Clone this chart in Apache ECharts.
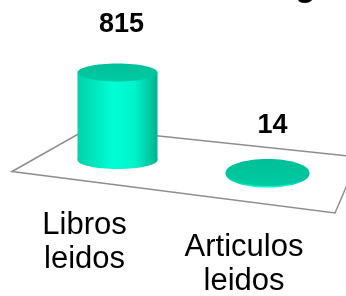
<!DOCTYPE html>
<html>
<head>
<meta charset="utf-8">
<script src="https://cdn.jsdelivr.net/npm/echarts@6/dist/echarts.min.js"></script>
<style>
  html, body { margin: 0; padding: 0; background: #fff; }
  #chart { width: 346px; height: 296px; }
</style>
</head>
<body>
<div id="chart"></div>
<script>
// datos del grafico
var categories = ['Libros\nleidos', 'Articulos\nleidos']
var values = [815, 14]
var valueMax = 1000

var FONT = '"Liberation Sans", Arial, sans-serif'

// cada cilindro va en su propia rejilla (perspectiva del piso)
var layout = [
  { left: 77.5, width: 80, base: 160, ry: 9, labelMargin: 48, labelShift: 66, valueGap: 25, valueDx: 4 },
  { left: 225.7, width: 83.6, base: 174, ry: 13.5, labelMargin: 56, labelShift: 47, valueGap: 20, valueDx: 5 }
]
var plotHeight = 107.4

var bodyColor = {
  type: 'linear', x: 0, y: 0, x2: 1, y2: 0,
  colorStops: [
    { offset: 0, color: '#00D2AC' },
    { offset: 0.45, color: '#00FFD6' },
    { offset: 0.72, color: '#00F2CA' },
    { offset: 1, color: '#00B48F' }
  ]
}
var topColor = {
  type: 'linear', x: 0, y: 0, x2: 0, y2: 1,
  colorStops: [
    { offset: 0, color: '#00BF98' },
    { offset: 1, color: '#00CBA2' }
  ]
}

function cylinder(ry, gap, dx) {
  return function (params, api) {
    var top = api.coord([api.value(0), api.value(1)])
    var base = api.coord([api.value(0), 0])
    var rx = api.size([1, 0])[0] / 2
    var cx = top[0]
    return {
      type: 'group',
      children: [
        { type: 'ellipse', shape: { cx: cx, cy: base[1], rx: rx, ry: ry }, style: { fill: bodyColor } },
        { type: 'rect', shape: { x: cx - rx, y: top[1], width: rx * 2, height: base[1] - top[1] }, style: { fill: bodyColor } },
        { type: 'ellipse', shape: { cx: cx, cy: top[1], rx: rx, ry: ry }, style: { fill: topColor } },
        {
          type: 'text',
          style: {
            text: String(api.value(1)),
            x: cx + dx, y: top[1] - ry - gap,
            align: 'center', verticalAlign: 'bottom',
            font: 'bold 27px ' + FONT, fill: '#000'
          }
        }
      ]
    }
  }
}

var grids = [], xAxes = [], yAxes = [], series = []
layout.forEach(function (l, i) {
  grids.push({
    left: l.left, width: l.width, top: l.base - plotHeight, height: plotHeight,
    containLabel: false, outerBoundsMode: 'none'
  })
  xAxes.push({
    type: 'category', gridIndex: i, data: [categories[i]],
    axisLine: { show: false }, axisTick: { show: false }, splitLine: { show: false },
    axisLabel: {
      margin: l.labelMargin, fontSize: 31, lineHeight: 34, color: '#000',
      fontFamily: FONT, padding: [0, l.labelShift, 0, 0]
    }
  })
  yAxes.push({ type: 'value', gridIndex: i, min: 0, max: valueMax, show: false })
  series.push({
    type: 'custom', xAxisIndex: i, yAxisIndex: i,
    data: [[0, values[i]]],
    renderItem: cylinder(l.ry, l.valueGap, l.valueDx)
  })
})

var myChart = echarts.init(document.getElementById('chart'))
myChart.setOption({
  animation: false,
  grid: grids,
  xAxis: xAxes,
  yAxis: yAxes,
  graphic: [
    // piso
    {
      type: 'polygon', z: -1,
      shape: { points: [[12, 171.5], [88, 128.5], [359, 157], [335, 213]] },
      style: { fill: '#fff', stroke: '#8E8E8E', lineWidth: 1.5 }
    },
    // resto del titulo, cortado por arriba
    {
      type: 'text', x: 295, y: -13.5,
      style: { text: 'g', font: 'bold 34px ' + FONT, fill: '#000', align: 'left', verticalAlign: 'middle' }
    }
  ],
  series: series
})
</script>
</body>
</html>
